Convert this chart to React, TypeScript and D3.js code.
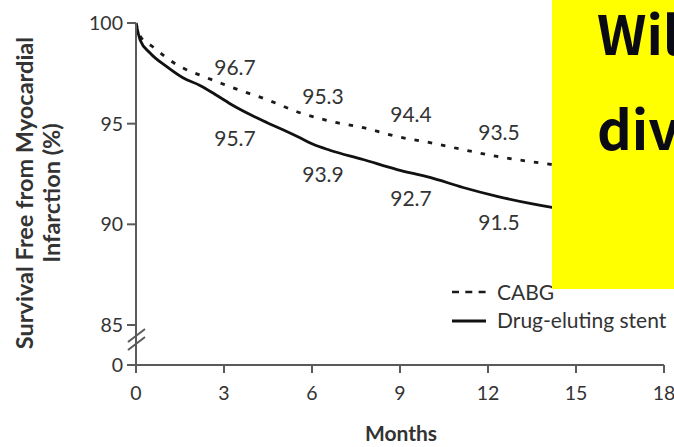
import React from "react";
import * as d3 from "d3";

// ---- data ----
const cabgMonths = [0, 0.14, 0.58, 1.4, 2.42, 3.31, 4.47, 5.59, 6.85, 7.74, 8.9, 10.02, 11.15, 12.31, 13.43, 14.18, 15];
const cabgValues = [100, 99.36, 98.81, 97.92, 97.28, 96.78, 96.19, 95.54, 95.05, 94.8, 94.36, 94.06, 93.71, 93.37, 93.12, 92.97, 92.8];

const desMonths = [0, 0.14, 0.48, 1.06, 1.6, 2.18, 2.76, 3.31, 3.89, 4.47, 5.01, 5.59, 6.0, 6.61, 7.74, 8.9, 10.02, 11.15, 12.31, 13.43, 14.18, 15];
const desValues = [100, 99.16, 98.51, 97.82, 97.28, 96.9, 96.4, 95.9, 95.45, 95.05, 94.7, 94.3, 94.0, 93.68, 93.22, 92.72, 92.33, 91.83, 91.39, 91.04, 90.84, 90.65];

const labelMonths = [3, 6, 9, 12];
const cabgLabels = [96.7, 95.3, 94.4, 93.5];
const desLabels = [95.7, 93.9, 92.7, 91.5];

const xTicks = [0, 3, 6, 9, 12, 15, 18];
const yTicks = [0, 85, 90, 95, 100];

const legendNames = ["CABG", "Drug-eluting stent"];
const yTitleLines = ["Survival Free from Myocardial", "Infarction (%)"];
const xTitle = "Months";
const overlayLines = ["Will", "diverge"];

export default function App() {
  const W = 674, H = 447;
  const x = d3.scaleLinear().domain([0, 18]).range([136, 664]);
  const y = d3.scaleLinear().domain([85, 100]).range([325, 23]);
  const zeroY = 365;
  const yPos = (v: number) => (v === 0 ? zeroY : y(v));

  const line = d3
    .line<[number, number]>()
    .x((d) => x(d[0]))
    .y((d) => y(d[1]))
    .curve(d3.curveMonotoneX);

  const cabgPts = cabgMonths.map((m, i) => [m, cabgValues[i]] as [number, number]);
  const desPts = desMonths.map((m, i) => [m, desValues[i]] as [number, number]);

  const font = "Lato, 'Open Sans', sans-serif";
  const axisColor = "#5a5a5a";
  const textColor = "#333";

  return (
    <svg
      width={W}
      height={H}
      style={{ position: "fixed", left: 0, top: 0, background: "#fff" }}
      fontFamily={font}
    >
      <rect x={0} y={0} width={W} height={H} fill="#fff" />

      {/* curves */}
      <path d={line(cabgPts) || ""} fill="none" stroke="#1a1a1a" strokeWidth={2.8} strokeDasharray="4.5,9" />
      <path d={line(desPts) || ""} fill="none" stroke="#111" strokeWidth={2.8} />

      {/* y axis */}
      <line x1={x(0)} x2={x(0)} y1={y(100)} y2={zeroY + 8} stroke={axisColor} strokeWidth={2} />
      {yTicks.map((t) => (
        <g key={"yt" + t}>
          <line x1={x(0) - 9} x2={x(0)} y1={yPos(t)} y2={yPos(t)} stroke={axisColor} strokeWidth={2} />
          <text x={x(0) - 13} y={yPos(t) + 7} textAnchor="end" fontSize={19.5} fill={textColor}>
            {t}
          </text>
        </g>
      ))}
      {/* axis break */}
      <line x1={x(0) - 8} y1={342} x2={x(0) + 9} y2={329} stroke={axisColor} strokeWidth={2} />
      <line x1={x(0) - 8} y1={350} x2={x(0) + 9} y2={337} stroke={axisColor} strokeWidth={2} />

      {/* x axis */}
      <line x1={x(0) - 9} x2={x(18)} y1={zeroY} y2={zeroY} stroke={axisColor} strokeWidth={2.2} />
      {xTicks.map((t) => (
        <g key={"xt" + t}>
          <line x1={x(t)} x2={x(t)} y1={zeroY} y2={zeroY + 8} stroke={axisColor} strokeWidth={2} />
          <text x={x(t)} y={400} textAnchor="middle" fontSize={19.5} fill={textColor}>
            {t}
          </text>
        </g>
      ))}

      {/* value labels */}
      {labelMonths.map((m, i) => (
        <text key={"cl" + m} x={x(m) + 11} y={y(cabgLabels[i]) - 14} textAnchor="middle" fontSize={21} fill={textColor}>
          {cabgLabels[i].toFixed(1)}
        </text>
      ))}
      {labelMonths.map((m, i) => (
        <text key={"dl" + m} x={x(m) + 11} y={y(desLabels[i]) + 36} textAnchor="middle" fontSize={21} fill={textColor}>
          {desLabels[i].toFixed(1)}
        </text>
      ))}

      {/* axis titles */}
      <text x={401} y={441} textAnchor="middle" fontSize={21} fontWeight="bold" fill={textColor}>
        {xTitle}
      </text>
      {yTitleLines.map((s, i) => (
        <text
          key={"yl" + i}
          transform={`translate(${33 + i * 27},193) rotate(-90)`}
          textAnchor="middle"
          fontSize={23.5}
          fontWeight="bold"
          fill={textColor}
        >
          {s}
        </text>
      ))}

      {/* legend */}
      <line x1={452} x2={486} y1={292} y2={292} stroke="#1a1a1a" strokeWidth={2.6} strokeDasharray="7,6.3" />
      <text x={497} y={300} fontSize={21} fill={textColor}>
        {legendNames[0]}
      </text>
      <line x1={452} x2={486} y1={321} y2={321} stroke="#111" strokeWidth={2.8} />
      <text x={497} y={328} fontSize={21} fill={textColor}>
        {legendNames[1]}
      </text>

      {/* yellow overlay box */}
      <rect x={552} y={0} width={W - 552} height={289} fill="#ffff00" />
      <text x={597} y={55} fontSize={54} fontWeight="bold" fill="#0a0a14" fontFamily="'Noto Sans CJK KR', 'Noto Sans', sans-serif">
        {overlayLines[0]}
      </text>
      <text x={597} y={150} fontSize={54} fontWeight="bold" fill="#0a0a14" fontFamily="'Noto Sans CJK KR', 'Noto Sans', sans-serif">
        {overlayLines[1]}
      </text>
    </svg>
  );
}
